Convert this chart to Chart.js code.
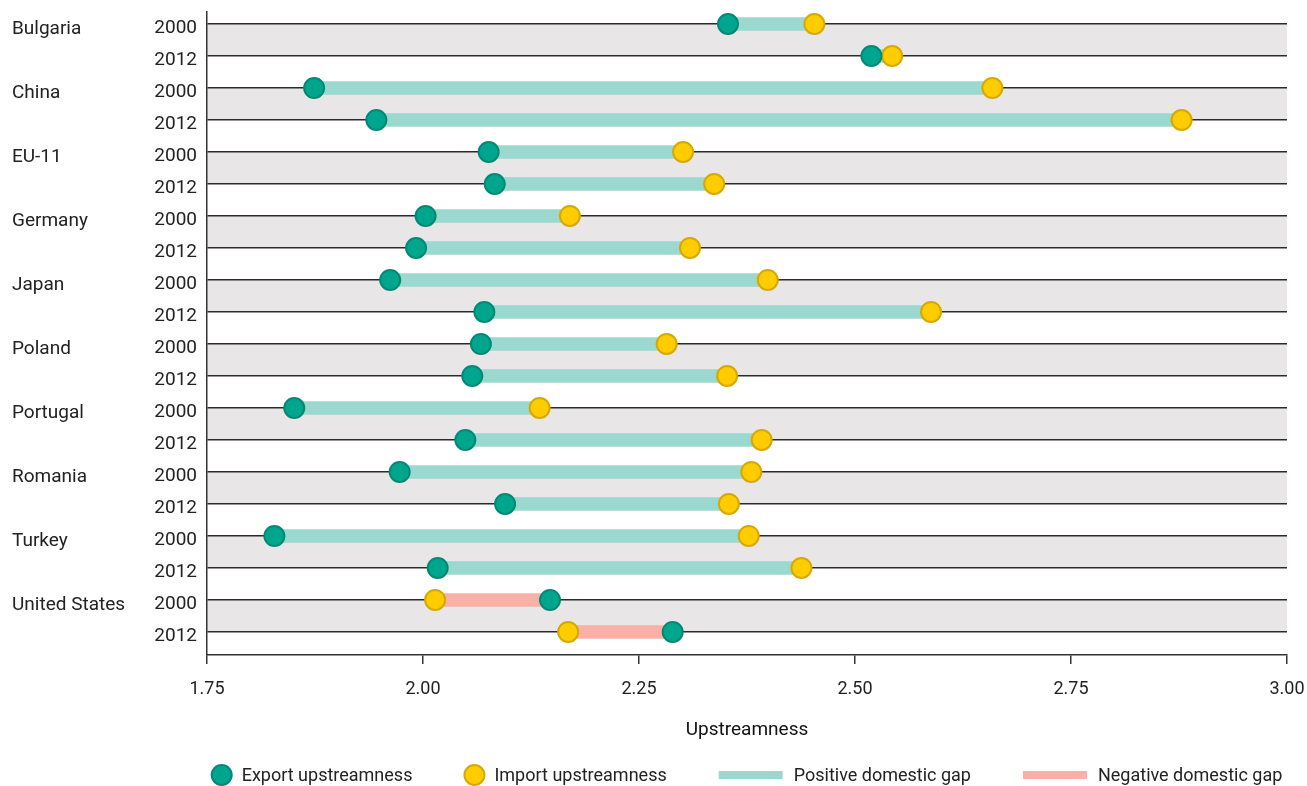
<!DOCTYPE html>
<html>
<head>
<meta charset="utf-8">
<script src="https://cdn.jsdelivr.net/npm/chart.js@4.4.1/dist/chart.umd.min.js"></script>
<style>
  html, body { margin: 0; padding: 0; background: #fff; }
  #wrap { width: 1307px; height: 786px; }
</style>
</head>
<body>
<div id="wrap"><canvas id="gapChart" width="1307" height="786"></canvas></div>
<script>
// data, one row per country/year (2000 then 2012)
const countries = ["Bulgaria", "China", "EU-11", "Germany", "Japan", "Poland", "Portugal", "Romania", "Turkey", "United States"];
const years = ["2000", "2012"];
const exportUp = [2.353, 2.519, 1.874, 1.946, 2.076, 2.083, 2.003, 1.992, 1.962, 2.071,
                  2.067, 2.057, 1.851, 2.049, 1.973, 2.095, 1.828, 2.017, 2.147, 2.289];
const importUp = [2.453, 2.543, 2.659, 2.878, 2.301, 2.337, 2.170, 2.309, 2.399, 2.588,
                  2.282, 2.352, 2.135, 2.392, 2.380, 2.354, 2.377, 2.438, 2.014, 2.168];
const xTicks = [1.75, 2.00, 2.25, 2.50, 2.75, 3.00];

const FONT = "Roboto, 'Liberation Sans', sans-serif";
const TEAL = "#00a58e", TEAL_EDGE = "#008a76";
const GOLD = "#ffcc00", GOLD_EDGE = "#d6a900";
const POS = "#9bd8cf", NEG = "#f8b0a9";

const rows = exportUp.map((e, i) => ({ i, e, m: importUp[i] }));
const posGap = rows.filter(r => r.m >= r.e).map(r => ({ y: r.i, x: [r.e, r.m] }));
const negGap = rows.filter(r => r.m < r.e).map(r => ({ y: r.i, x: [r.m, r.e] }));

// grey bands behind each country's pair of rows
const bandPlugin = {
    id: "bands",
    beforeDraw(chart) {
        const { ctx, chartArea, scales } = chart;
        ctx.save();
        ctx.fillStyle = "#e8e6e7";
        countries.forEach((c, k) => {
            const y1 = scales.y.getPixelForValue(k * 2);
            const y2 = scales.y.getPixelForValue(k * 2 + 1);
            ctx.fillRect(chartArea.left, y1, chartArea.right - chartArea.left, y2 - y1);
        });
        ctx.restore();
    }
};

// country names and the bottom legend
const labelPlugin = {
    id: "labels",
    afterDraw(chart) {
        const { ctx, chartArea, scales } = chart;
        ctx.save();
        ctx.font = "19px " + FONT;
        ctx.fillStyle = "#222";
        ctx.textBaseline = "middle";
        ctx.textAlign = "left";
        countries.forEach((c, k) => {
            ctx.fillText(c, 12, scales.y.getPixelForValue(k * 2) + 5);
        });

        ctx.font = "18px " + FONT;
        const items = chart.data.datasets.slice().sort((a, b) => a.legendPos - b.legendPos);
        const gap = 52, lineW = 64;
        const widths = items.map(d => (d.type === "line" ? 30 : lineW + 11) + ctx.measureText(d.label).width);
        const total = widths.reduce((a, b) => a + b, 0) + gap * (items.length - 1);
        let x = (chartArea.left + chartArea.right) / 2 - total / 2;
        const y = 775;
        items.forEach((d, n) => {
            if (d.type === "line") {
                ctx.beginPath();
                ctx.arc(x + 10, y, 10, 0, Math.PI * 2);
                ctx.fillStyle = d.backgroundColor;
                ctx.fill();
                ctx.lineWidth = 2;
                ctx.strokeStyle = d.borderColor;
                ctx.stroke();
                ctx.fillStyle = "#222";
                ctx.fillText(d.label, x + 30, y + 1);
            } else {
                ctx.fillStyle = d.backgroundColor;
                ctx.fillRect(x, y - 4, lineW, 8);
                ctx.fillStyle = "#222";
                ctx.fillText(d.label, x + lineW + 11, y + 1);
            }
            x += widths[n] + gap;
        });
        ctx.restore();
    }
};

const ctx = document.getElementById("gapChart").getContext("2d");
new Chart(ctx, {
    type: "bar",
    data: {
        datasets: [
            {
                type: "line",
                label: "Export upstreamness",
                data: exportUp.map((v, i) => ({ x: v, y: i })),
                showLine: false,
                pointRadius: 10,
                pointBorderWidth: 2,
                backgroundColor: TEAL,
                borderColor: TEAL_EDGE,
                order: 0,
                legendPos: 0
            },
            {
                type: "line",
                label: "Import upstreamness",
                data: importUp.map((v, i) => ({ x: v, y: i })),
                showLine: false,
                pointRadius: 10,
                pointBorderWidth: 2,
                backgroundColor: GOLD,
                borderColor: GOLD_EDGE,
                order: 0,
                legendPos: 1
            },
            {
                label: "Positive domestic gap",
                data: posGap,
                backgroundColor: POS,
                barThickness: 13,
                grouped: false,
                order: 1,
                legendPos: 2
            },
            {
                label: "Negative domestic gap",
                data: negGap,
                backgroundColor: NEG,
                barThickness: 13,
                grouped: false,
                order: 1,
                legendPos: 3
            }
        ]
    },
    options: {
        indexAxis: "y",
        responsive: false,
        animation: false,
        layout: { padding: { top: 12, right: 20, left: 0, bottom: 0 } },
        plugins: { legend: { display: false }, tooltip: { enabled: false } },
        scales: {
            x: {
                type: "linear",
                min: 1.75,
                max: 3.0,
                afterBuildTicks: s => { s.ticks = xTicks.map(v => ({ value: v })); },
                afterFit: s => { s.height = 131; s.paddingRight = 0; },
                ticks: {
                    callback: v => v.toFixed(2),
                    font: { family: FONT, size: 18 },
                    color: "#222",
                    padding: 15,
                    maxRotation: 0
                },
                grid: { drawOnChartArea: false, drawTicks: true, tickLength: 9, color: "#333", lineWidth: 1.5 },
                border: { display: true, color: "#333", width: 1.5 },
                title: {
                    display: true,
                    text: "Upstreamness",
                    font: { family: FONT, size: 19 },
                    color: "#111",
                    padding: { top: 0, bottom: 44 }
                }
            },
            y: {
                type: "linear",
                reverse: true,
                offset: false,
                min: -0.375,
                max: 19.72,
                afterBuildTicks: s => { s.ticks = exportUp.map((v, i) => ({ value: i })); },
                afterFit: s => { s.width = 207; s.paddingTop = 0; s.paddingBottom = 0; },
                ticks: {
                    autoSkip: false,
                    callback: v => years[v % 2],
                    font: { family: FONT, size: 19 },
                    color: "#222",
                    padding: 10,
                    labelOffset: 4
                },
                grid: { color: "#2b2b2b", lineWidth: 1.5, drawTicks: false, offset: false },
                border: { display: true, color: "#333", width: 1.5 }
            }
        }
    },
    plugins: [bandPlugin, labelPlugin]
});
</script>
</body>
</html>
